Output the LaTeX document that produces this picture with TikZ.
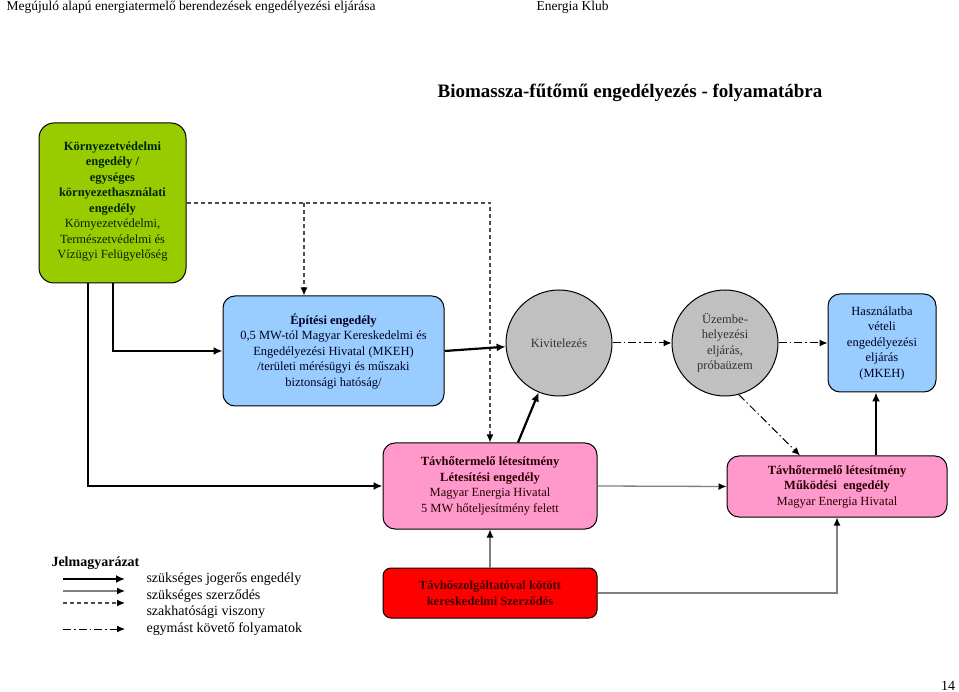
\documentclass[tikz,border=0pt]{standalone}
\usepackage{fontspec}
\setmainfont{Liberation Serif}
\usetikzlibrary{positioning,shapes,arrows.meta}
\definecolor{zold}{HTML}{99CC00}
\definecolor{kek}{HTML}{99CCFF}
\definecolor{rozsa}{HTML}{FF99CC}
\definecolor{szurke}{HTML}{C0C0C0}
\definecolor{piros}{HTML}{FF0000}
\newcommand{\dobozbetu}{\fontsize{12.5}{15.5}\selectfont}
\newcommand{\jelbetu}{\fontsize{14}{16}\selectfont}
\newcommand{\fejbetu}{\fontsize{13.5}{15}\selectfont}

\begin{document}
\begin{tikzpicture}[x=1pt,y=-1pt,
  box/.style={draw,rounded corners=12pt,align=center,font=\dobozbetu,line width=1pt,inner sep=2pt},
  kor/.style={draw,circle,minimum size=106pt,fill=szurke,align=center,font=\dobozbetu,line width=1pt,inner sep=0pt,text=black!80},
  jog/.style={-{Latex[length=9pt,width=8pt]},line width=2.2pt},
  szerz/.style={-{Latex[length=8pt,width=7pt,black]},line width=1.3pt,draw=gray},
  szak/.style={-{Latex[length=8pt,width=7pt,black]},dash pattern=on 4pt off 3pt,line width=1.3pt,draw=black!70},
  koveto/.style={-{Latex[length=8pt,width=7pt]},dash pattern=on 8pt off 3pt on 1.5pt off 3pt,line width=1pt}
    ]
    \useasboundingbox (0,0) rectangle (959,692);
    % fejlec es cim
    \node[anchor=west,font=\fejbetu] (fej) at (3,7) {Megújuló alapú energiatermelő berendezések engedélyezési eljárása};
    \node[anchor=west,font=\fejbetu] (ek) at (533,7) {Energia Klub};
    \node[font=\fontsize{19}{22}\selectfont\bfseries] (cim) at (630,93) {Biomassza-fűtőmű engedélyezés - folyamatábra};
    % dobozok
    \node[box,fill=zold,rounded corners=15pt,minimum width=147pt,minimum height=160pt,text=black!85!green] (kv) at (112.5,203)
      {\textbf{Környezetvédelmi}\\ \textbf{engedély /}\\ \textbf{egységes}\\ \textbf{környezethasználati}\\ \textbf{engedély}\\ Környezetvédelmi,\\ Természetvédelmi és\\ Vízügyi Felügyelőség\\[-10pt]};
    \node[box,fill=kek,minimum width=221pt,minimum height=110pt,text=blue!15!black] (ep) at (333.5,351)
      {\textbf{Építési engedély}\\ 0,5 MW-tól Magyar Kereskedelmi és\\ Engedélyezési Hivatal (MKEH)\\ /területi mérésügyi és műszaki\\ biztonsági hatóság/};
    \node[kor] (kiv) at (559,343) {Kivitelezés};
    \node[kor,right=59pt of kiv] (uz) {Üzembe-\\helyezési\\eljárás,\\próbaüzem};
    \node[box,fill=kek,minimum width=108pt,minimum height=98pt,right=49pt of uz,text=blue!15!black] (hasz)
      {Használatba\\ vételi\\ engedélyezési\\ eljárás\\ (MKEH)};
    \node[box,fill=rozsa,minimum width=214pt,minimum height=86pt,text=black!85!red] (let) at (490,486)
      {\textbf{Távhőtermelő létesítmény}\\ \textbf{Létesítési engedély}\\ Magyar Energia Hivatal\\ 5 MW hőteljesítmény felett};
    \node[box,fill=rozsa,minimum width=220pt,minimum height=61pt,text=black!85!red] (mk) at (837,486.5)
      {\textbf{Távhőtermelő létesítmény}\\ \textbf{Működési~ engedély}\\ Magyar Energia Hivatal};
    \node[box,fill=piros,rounded corners=8pt,minimum width=214pt,minimum height=50pt,below=38pt of let,text=black!75!red] (tsz)
      {\textbf{Távhőszolgáltatóval kötött}\\ \textbf{kereskedelmi Szerződés}};
    % kapcsolatok
    \draw[jog] (kv.south -| 113,0) |- (ep.west);
    \draw[jog] (kv.south -| 88,0) |- (let.west);
    \draw[szak] (kv.east) -| (let.north);
    \coordinate (ag) at (304,203);
    \draw[szak] (ag) -- (ag |- ep.north);
    \draw[jog] (ep.east) -- (kiv);
    \draw[jog] ([xshift=28pt]let.north) -- (kiv);
    \draw[koveto] (kiv) -- (uz);
    \draw[koveto] (uz) -- (hasz.west);
    \draw[koveto] (uz.-75) -- ([xshift=-37pt]mk.north);
    \draw[jog] ([xshift=-6pt]hasz.south |- mk.north) -- ([xshift=-6pt]hasz.south);
    \draw[szerz] (let.east) -- (mk.west);
    \draw[szerz] (tsz.north) -- (let.south);
    \draw[szerz] (tsz.east) -| (mk.south);
    % jelmagyarazat
    \node[anchor=west,font=\fontsize{14}{16}\selectfont\bfseries] (jm) at (48,563) {Jelmagyarázat};
    \node[anchor=west,font=\jelbetu] (j1) at (143,579) {szükséges jogerős engedély};
    \node[anchor=west,font=\jelbetu] (j2) at (143,596) {szükséges szerződés};
    \node[anchor=west,font=\jelbetu] (j3) at (143,612) {szakhatósági viszony};
    \node[anchor=west,font=\jelbetu] (j4) at (143,629) {egymást követő folyamatok};
    \coordinate (a1) at (63,579); \coordinate (b1) at (125,579);
    \coordinate (a2) at (63,591); \coordinate (b2) at (125,591);
    \coordinate (a3) at (63,603); \coordinate (b3) at (125,603);
    \coordinate (a4) at (63,629); \coordinate (b4) at (125,629);
    \draw[jog] (a1) -- (b1);
    \draw[szerz] (a2) -- (b2);
    \draw[szak] (a3) -- (b3);
    \draw[koveto] (a4) -- (b4);
    \node[font=\fontsize{14}{16}\selectfont] (old) at (948,686) {14};
    \end{tikzpicture}
\end{document}
